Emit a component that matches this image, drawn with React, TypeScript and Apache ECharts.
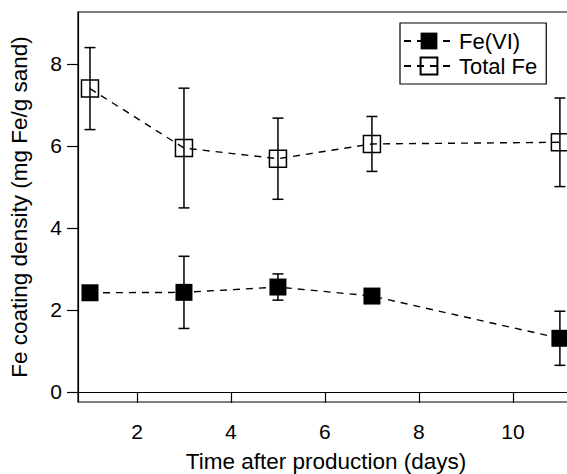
import React, { useEffect, useRef } from "react";
import * as echarts from "echarts";

const days = [1, 3, 5, 7, 11];
const feVI = [2.42, 2.43, 2.56, 2.34, 1.31];
const feVIErr = [0, 0.88, 0.32, 0, 0.66];
const totalFe = [7.4, 5.95, 5.69, 6.05, 6.09];
const totalFeErr = [1.0, 1.46, 0.99, 0.67, 1.08];
const xTicks = [2, 4, 6, 8, 10];
const yTicks = [0, 2, 4, 6, 8];

const FONT = "Liberation Sans, Arial, sans-serif";

export default function App() {
  const ref = useRef<HTMLDivElement>(null);
  useEffect(() => {
    if (!ref.current) return;
    const chart = echarts.init(ref.current, null, { renderer: "svg" });
    const errRender = (params: any, api: any) => {
      const x = api.value(0);
      const y = api.value(1);
      const e = api.value(2);
      if (!e) return { type: "group", children: [] };
      const top = api.coord([x, y + e]);
      const bot = api.coord([x, y - e]);
      const hw = 5.5;
      const st = { stroke: "#000", lineWidth: 1.5 };
      return {
        type: "group",
        children: [
          { type: "line", shape: { x1: top[0], y1: top[1], x2: bot[0], y2: bot[1] }, style: st },
          { type: "line", shape: { x1: top[0] - hw, y1: top[1], x2: top[0] + hw, y2: top[1] }, style: st },
          { type: "line", shape: { x1: bot[0] - hw, y1: bot[1], x2: bot[0] + hw, y2: bot[1] }, style: st },
        ],
      };
    };
    const dash = [7, 6];
    chart.setOption({
      animation: false,
      textStyle: { fontFamily: FONT, color: "#000" },
      grid: {
        left: 78,
        top: 12,
        right: -7,
        bottom: 72,
        containLabel: false,
        outerBoundsMode: "none",
        show: true,
        borderColor: "#000",
        borderWidth: 1.2,
        backgroundColor: "transparent",
      },
      legend: {
        orient: "vertical",
        left: 400,
        top: 23,
        padding: [7, 9, 7, 3],
        itemGap: 3,
        itemWidth: 50,
        itemHeight: 21,
        borderColor: "#000",
        borderWidth: 1.2,
        backgroundColor: "#fff",
        textStyle: { fontSize: 22, fontFamily: FONT, color: "#000" },
        data: ["Fe(VI)", "Total Fe"],
      },
      xAxis: {
        type: "value",
        min: 0.745,
        max: 11.3,
        name: "Time after production (days)",
        nameLocation: "middle",
        nameGap: 48,
        nameTextStyle: { fontSize: 22.5, lineHeight: 22, fontFamily: FONT, color: "#000" },
        splitLine: { show: false },
        axisLine: { lineStyle: { color: "#000", width: 1.2 } },
        axisTick: { show: true, length: 11, lineStyle: { color: "#000", width: 1.2 }, customValues: xTicks },
        axisLabel: { fontSize: 21, color: "#000", fontFamily: FONT, margin: 19, customValues: xTicks },
      },
      yAxis: {
        type: "value",
        min: -0.244,
        max: 9.268,
        name: "Fe coating density (mg Fe/g sand)",
        nameLocation: "middle",
        nameGap: 47,
        nameTextStyle: { fontSize: 22.5, fontFamily: FONT, color: "#000" },
        splitLine: { show: false },
        axisLine: { lineStyle: { color: "#000", width: 1.2 } },
        axisTick: { show: true, length: 11, lineStyle: { color: "#000", width: 1.2 }, customValues: yTicks },
        axisLabel: { fontSize: 21, color: "#000", fontFamily: FONT, margin: 16, customValues: yTicks },
      },
      series: [
        {
          type: "custom",
          name: "errFeVI",
          renderItem: errRender,
          data: days.map((d, i) => [d, feVI[i], feVIErr[i]]),
          z: 1,
          silent: true,
        },
        {
          type: "custom",
          name: "errTotal",
          renderItem: errRender,
          data: days.map((d, i) => [d, totalFe[i], totalFeErr[i]]),
          z: 1,
          silent: true,
        },
        {
          type: "line",
          name: "Fe(VI)",
          data: days.map((d, i) => [d, feVI[i]]),
          symbol: "rect",
          symbolSize: 17,
          itemStyle: { color: "#000", borderWidth: 0 },
          lineStyle: { color: "#000", width: 1.4, type: dash },
          z: 3,
        },
        {
          type: "line",
          name: "Total Fe",
          data: days.map((d, i) => [d, totalFe[i]]),
          symbol: "rect",
          symbolSize: 17,
          itemStyle: { color: "none", borderColor: "#000", borderWidth: 1.5 },
          lineStyle: { color: "#000", width: 1.4, type: dash },
          z: 3,
        },
      ],
    });
    return () => chart.dispose();
  }, []);
  return (
    <div
      ref={ref}
      style={{ position: "fixed", left: 0, top: 0, width: 567, height: 474, background: "#fff" }}
    />
  );
}
